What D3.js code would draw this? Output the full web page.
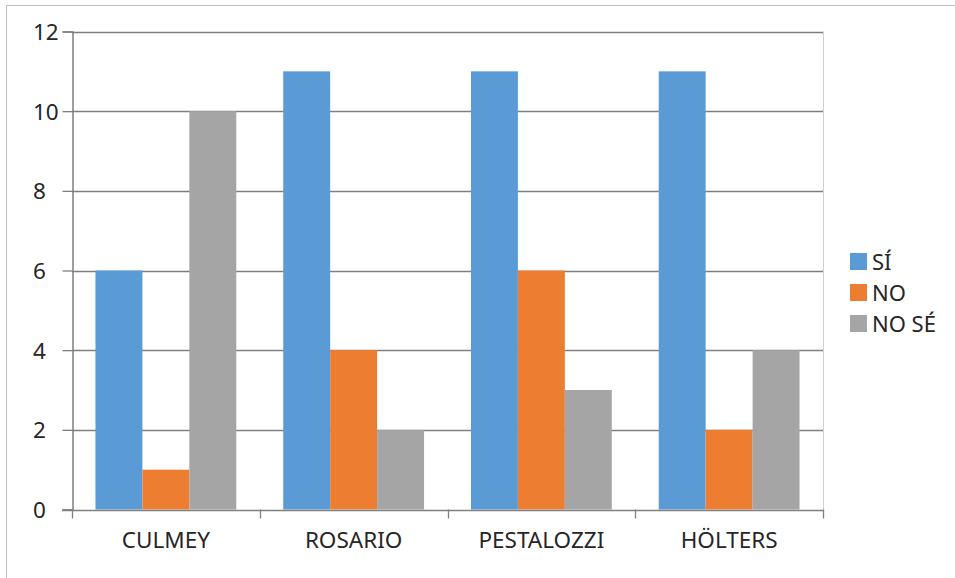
<!DOCTYPE html>
<html>
<head>
<meta charset="utf-8">
<script src="https://cdn.jsdelivr.net/npm/d3@7"></script>
<style>
  body { margin: 0; background: #fff; }
  text { font-family: "Noto Sans", "Open Sans", sans-serif; fill: #262626; }
</style>
</head>
<body>
<div id="chart"></div>
<script>
const width = 955;
const height = 578;

const categories = ["CULMEY", "ROSARIO", "PESTALOZZI", "HÖLTERS"];
const seriesNames = ["SÍ", "NO", "NO SÉ"];
const siValues = [6, 11, 11, 11];
const noValues = [1, 4, 6, 2];
const noSeValues = [10, 2, 3, 4];
const yTicks = [0, 2, 4, 6, 8, 10, 12];
const colors = ["#5B9BD5", "#ED7D31", "#A5A5A5"];

const seriesValues = [siValues, noValues, noSeValues];

const plot = { left: 72, right: 823, top: 31.5, bottom: 509.5 };
const fontSize = 22.5;

const svg = d3
  .select("#chart")
  .append("svg")
  .attr("width", width)
  .attr("height", height);

// outer chart border
svg
  .append("rect")
  .attr("x", 6.5)
  .attr("y", 5.5)
  .attr("width", 2000)
  .attr("height", 2000)
  .attr("fill", "none")
  .attr("stroke", "#bfbfbf");

const x0 = d3
  .scaleBand()
  .domain(categories)
  .range([plot.left, plot.right])
  .paddingInner(0)
  .paddingOuter(0);

const x1 = d3
  .scaleBand()
  .domain(seriesNames)
  .range([0, x0.bandwidth()])
  .paddingInner(0)
  .paddingOuter(0.5);

const y = d3.scaleLinear().domain([0, 12]).range([plot.bottom, plot.top]);

// right border of plot area
svg
  .append("line")
  .attr("x1", plot.right + 0.5)
  .attr("x2", plot.right + 0.5)
  .attr("y1", plot.top)
  .attr("y2", plot.bottom)
  .attr("stroke", "#d0d0d0");

// gridlines
svg
  .append("g")
  .selectAll("line")
  .data(yTicks.filter((d) => d > 0))
  .enter()
  .append("line")
  .attr("x1", plot.left)
  .attr("x2", plot.right)
  .attr("y1", (d) => Math.round(y(d)) + 0.5)
  .attr("y2", (d) => Math.round(y(d)) + 0.5)
  .attr("stroke", "#7f7f7f")
  .attr("stroke-width", 1.3);

// bars
const rows = categories.map((c, i) => ({
  cat: c,
  vals: seriesNames.map((s, j) => ({ s: s, v: seriesValues[j][i], c: colors[j] })),
}));

const group = svg
  .append("g")
  .selectAll("g")
  .data(rows)
  .enter()
  .append("g")
  .attr("transform", (d) => `translate(${x0(d.cat)},0)`);

group
  .selectAll("rect")
  .data((d) => d.vals)
  .enter()
  .append("rect")
  .attr("x", (d) => x1(d.s))
  .attr("width", x1.bandwidth())
  .attr("y", (d) => y(d.v))
  .attr("height", (d) => y(0) - y(d.v))
  .attr("fill", (d) => d.c);

// y axis (labels are left aligned in the original)
const yAxis = svg
  .append("g")
  .attr("transform", `translate(${plot.left + 0.5},0)`)
  .call(d3.axisLeft(y).tickValues(yTicks).tickSize(10).tickPadding(6));
yAxis.select(".domain").attr("stroke", "#7f7f7f").attr("stroke-width", 1.5);
yAxis.selectAll(".tick line").attr("stroke", "#7f7f7f").attr("stroke-width", 1.3);
yAxis
  .selectAll(".tick text")
  .attr("font-size", fontSize)
  .attr("font-family", null)
  .attr("text-anchor", "start")
  .attr("x", 33 - plot.left - 0.5)
  .attr("dy", "0.36em")
  .attr("fill", "#262626");

// x axis
const xAxis = svg
  .append("g")
  .attr("transform", `translate(0,${Math.round(plot.bottom) + 0.5})`)
  .call(d3.axisBottom(x0).tickSize(0).tickPadding(22));
xAxis.select(".domain").remove();
xAxis
  .selectAll(".tick text")
  .attr("font-size", fontSize)
  .attr("font-family", null)
  .attr("dy", "0.71em")
  .attr("fill", "#262626");

svg
  .append("line")
  .attr("x1", plot.left - 10)
  .attr("x2", plot.right + 0.5)
  .attr("y1", Math.round(plot.bottom) + 0.5)
  .attr("y2", Math.round(plot.bottom) + 0.5)
  .attr("stroke", "#7f7f7f")
  .attr("stroke-width", 1.5);

const boundaries = categories.map((c) => x0(c)).concat([plot.right]);
svg
  .append("g")
  .selectAll("line")
  .data(boundaries)
  .enter()
  .append("line")
  .attr("x1", (d) => Math.round(d) + 0.5)
  .attr("x2", (d) => Math.round(d) + 0.5)
  .attr("y1", plot.bottom)
  .attr("y2", plot.bottom + 9)
  .attr("stroke", "#7f7f7f")
  .attr("stroke-width", 1.3);

// legend
const legend = svg
  .append("g")
  .selectAll("g")
  .data(seriesNames)
  .enter()
  .append("g")
  .attr("transform", (d, i) => `translate(850,${253 + i * 31})`);

legend
  .append("rect")
  .attr("width", 17)
  .attr("height", 17)
  .attr("fill", (d, i) => colors[i]);

legend
  .append("text")
  .attr("x", 22)
  .attr("y", 17)
  .attr("font-size", 22)
  .text((d) => d);
</script>
</body>
</html>
